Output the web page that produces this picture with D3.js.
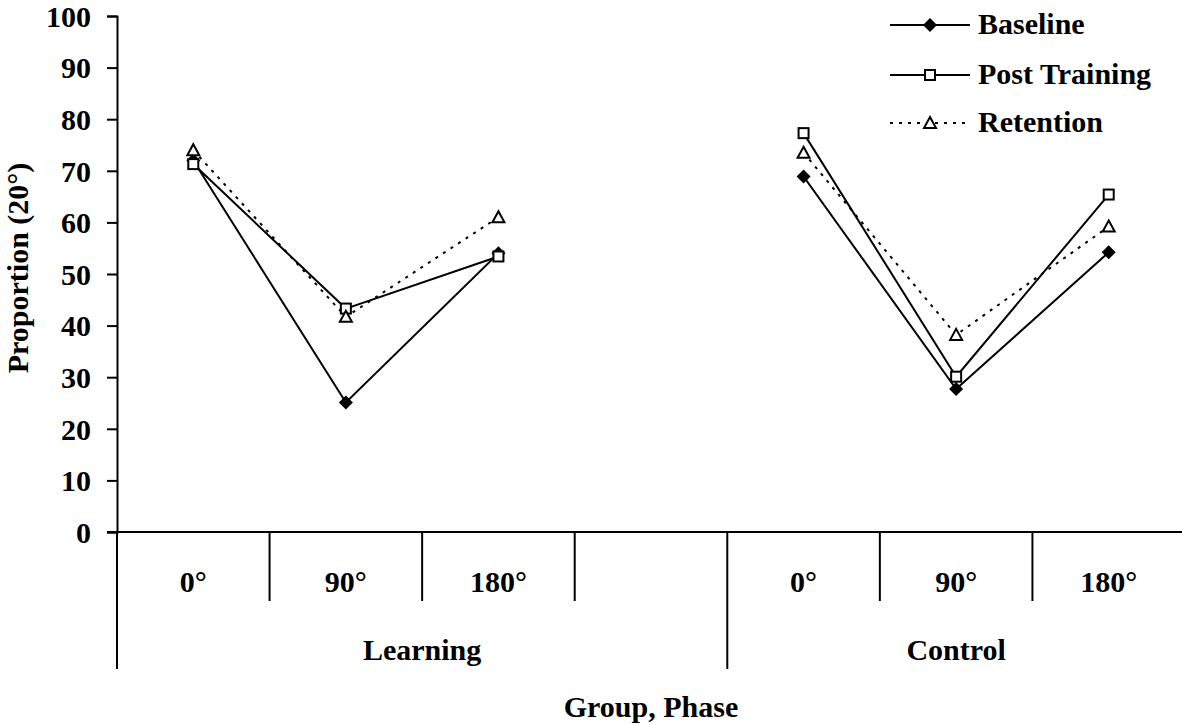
<!DOCTYPE html>
<html>
<head>
<meta charset="utf-8">
<script src="https://cdn.jsdelivr.net/npm/d3@7"></script>
<style>
  body { margin: 0; background: #fff; }
  text { font-family: "Liberation Serif", "Times New Roman", serif; font-weight: bold; fill: #000; }
</style>
</head>
<body>
<div id="chart"></div>
<script>
// slots along the x axis; the empty one is the gap between groups
const slots = ['L0', 'L90', 'L180', 'gap', 'C0', 'C90', 'C180'];
const slotLabels = ['0°', '90°', '180°', '', '0°', '90°', '180°'];
const groups = ['Learning', 'Control'];
const groupSlots = [['L0', 'L90', 'L180'], ['C0', 'C90', 'C180']];
const yTicks = [0, 10, 20, 30, 40, 50, 60, 70, 80, 90, 100];

const baseline = [72, 25.1, 54, 68.9, 27.7, 54.2];
const postTraining = [71.3, 43.3, 53.4, 77.3, 30.1, 65.4];
const retention = [74, 41.7, 61, 73.5, 38.2, 59.2];

const seriesNames = ['Baseline', 'Post Training', 'Retention'];
const seriesValues = [baseline, postTraining, retention];

const W = 1182, H = 724;
const plotLeft = 117, plotRight = 1185, plotTop = 16, plotBottom = 532;
const fontSize = '30px';

const svg = d3.select('#chart').append('svg')
  .attr('width', W).attr('height', H);

const x = d3.scaleBand().domain(slots).range([plotLeft, plotRight]);
const y = d3.scaleLinear().domain([0, 100]).range([plotBottom, plotTop]);

// y axis
const yAxis = d3.axisLeft(y).tickValues(yTicks).tickSize(10).tickPadding(16);
const yg = svg.append('g').attr('transform', `translate(${plotLeft},0)`).call(yAxis);
yg.select('.domain').attr('stroke', '#000').attr('stroke-width', 2);
yg.selectAll('.tick line').attr('stroke', '#000').attr('stroke-width', 2);
yg.selectAll('.tick text')
  .style('font-size', fontSize)
  .style('font-family', '"Liberation Serif", serif')
  .style('font-weight', 'bold')
  .attr('fill', '#000')
  .attr('dy', '0.34em');

// x axis line
svg.append('line')
  .attr('x1', plotLeft - 10).attr('x2', W)
  .attr('y1', plotBottom).attr('y2', plotBottom)
  .attr('stroke', '#000').attr('stroke-width', 2);

// category dividers
slots.forEach((s, i) => {
  if (i === 0) return;
  const isGroup = s === 'C0';
  svg.append('line')
    .attr('x1', x(s)).attr('x2', x(s))
    .attr('y1', plotBottom).attr('y2', isGroup ? 669 : 601)
    .attr('stroke', '#000').attr('stroke-width', 2);
});
svg.append('line')
  .attr('x1', plotLeft).attr('x2', plotLeft)
  .attr('y1', plotBottom).attr('y2', 669)
  .attr('stroke', '#000').attr('stroke-width', 2);

// category labels
svg.selectAll('.cat')
  .data(slots)
  .enter().append('text')
  .attr('x', d => x(d) + x.bandwidth() / 2)
  .attr('y', 592)
  .attr('text-anchor', 'middle')
  .style('font-size', fontSize)
  .text((d, i) => slotLabels[i]);

// group labels
groups.forEach((g, i) => {
  const s = groupSlots[i];
  const x0 = i === 0 ? plotLeft : x(s[0]);
  const x1 = i === 0 ? x('C0') : plotRight;
  svg.append('text')
    .attr('x', (x0 + x1) / 2)
    .attr('y', 660)
    .attr('text-anchor', 'middle')
    .style('font-size', fontSize)
    .text(g);
});

// axis titles
svg.append('text')
  .attr('x', (plotLeft + plotRight) / 2).attr('y', 717)
  .attr('text-anchor', 'middle')
  .style('font-size', fontSize)
  .text('Group, Phase');

svg.append('text')
  .attr('transform', 'translate(28,268) rotate(-90)')
  .attr('text-anchor', 'middle')
  .style('font-size', '30px')
  .text('Proportion (20°)');

// lines and markers
const cx = s => x(s) + x.bandwidth() / 2;
const dashes = [null, null, '3,6'];
const markerType = ['diamond', 'square', 'triangle'];

const drawMarker = (g, type, px, py) => {
  if (type === 'diamond') {
    g.append('path')
      .attr('d', `M${px},${py - 7}L${px + 7},${py}L${px},${py + 7}L${px - 7},${py}Z`)
      .attr('fill', '#000');
  } else if (type === 'square') {
    g.append('rect')
      .attr('x', px - 5).attr('y', py - 5)
      .attr('width', 10).attr('height', 10)
      .attr('fill', '#fff').attr('stroke', '#000').attr('stroke-width', 2);
  } else {
    g.append('path')
      .attr('d', `M${px},${py - 6}L${px + 6},${py + 5}L${px - 6},${py + 5}Z`)
      .attr('fill', '#fff').attr('stroke', '#000').attr('stroke-width', 2);
  }
};

const line = d3.line().x(d => d[0]).y(d => d[1]);

seriesValues.forEach((vals, si) => {
  const g = svg.append('g');
  groupSlots.forEach((gs, gi) => {
    const pts = gs.map((s, k) => [cx(s), y(vals[gi * 3 + k])]);
    g.append('path')
      .attr('d', line(pts))
      .attr('fill', 'none')
      .attr('stroke', '#000')
      .attr('stroke-width', 2)
      .attr('stroke-dasharray', dashes[si]);
  });
});
seriesValues.forEach((vals, si) => {
  const g = svg.append('g');
  groupSlots.forEach((gs, gi) => {
    gs.forEach((s, k) => drawMarker(g, markerType[si], cx(s), y(vals[gi * 3 + k])));
  });
});

// legend
const legendY = [25, 75, 123];
seriesNames.forEach((name, i) => {
  const g = svg.append('g');
  g.append('line')
    .attr('x1', 890).attr('x2', 970)
    .attr('y1', legendY[i]).attr('y2', legendY[i])
    .attr('stroke', '#000').attr('stroke-width', 2)
    .attr('stroke-dasharray', dashes[i]);
  drawMarker(g, markerType[i], 930, legendY[i]);
  g.append('text')
    .attr('x', 978).attr('y', legendY[i] + 9)
    .style('font-size', fontSize)
    .text(name);
});
</script>
</body>
</html>
